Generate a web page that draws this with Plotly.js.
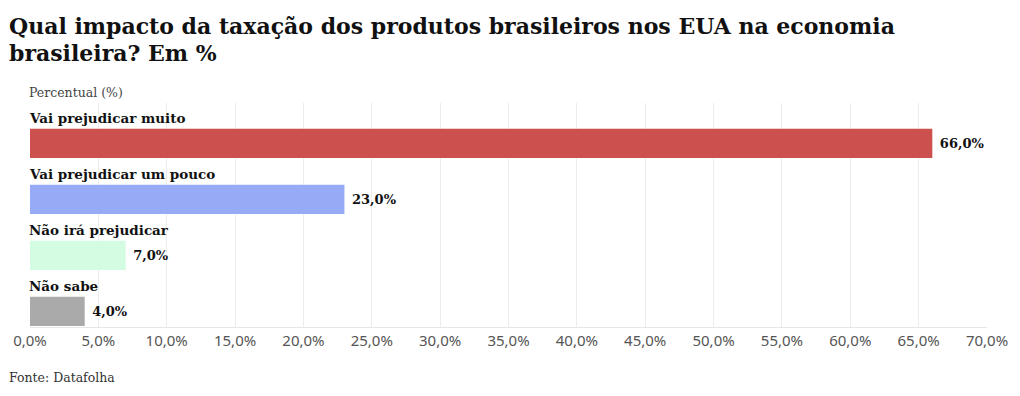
<!DOCTYPE html>
<html>
<head>
<meta charset="utf-8">
<script src="https://cdn.plot.ly/plotly-3.0.1.min.js"></script>
<style>html,body{margin:0;padding:0;background:#fff;}#chart{width:1020px;height:396px;}</style>
</head>
<body>
<div id="chart"></div>
<script>
const categories = ["Vai prejudicar muito", "Vai prejudicar um pouco", "Não irá prejudicar", "Não sabe"];
const values = [66.0, 23.0, 7.0, 4.0];
const barColors = ["rgb(204,80,77)", "rgb(151,170,245)", "rgb(212,252,226)", "rgb(170,170,170)"];
const xTicks = [0,5,10,15,20,25,30,35,40,45,50,55,60,65,70];
const titleLines = ["Qual impacto da taxação dos produtos brasileiros nos EUA na economia", "brasileira? Em %"];
const axisTitle = "Percentual (%)";
const sourceText = "Fonte: Datafolha";

const serif = "'DejaVu Serif', serif";
const sans = "'Noto Sans', sans-serif";

const fmt = v => v.toFixed(1).replace(".", ",") + "%";

const trace = {
  type: "bar",
  orientation: "h",
  x: values,
  y: categories,
  width: 0.52,
  offset: -0.04,
  marker: {color: barColors},
  text: values.map(v => " " + fmt(v)),
  textposition: "outside",
  cliponaxis: false,
  textfont: {family: serif, size: 13, color: "#111", weight: "bold"},
  hoverinfo: "none"
};

const ml = 30, mr = 33, mt = 103, mb = 69, W = 1020, H = 396;
const pw = W - ml - mr, ph = H - mt - mb;
const px2paperX = px => (px - ml) / pw;
const px2paperY = py => (H - mb - py) / ph;

const annotations = categories.map(c => ({
  x: 0, y: c, xref: "x", yref: "y",
  text: "<b>" + c + "</b>",
  showarrow: false, xanchor: "left", yanchor: "middle",
  yshift: 13, xshift: -3,
  font: {family: serif, size: 13.5, color: "#111"}
}));
annotations.push({
  x: px2paperX(30), y: px2paperY(92), xref: "paper", yref: "paper",
  text: axisTitle, showarrow: false, xanchor: "left", yanchor: "middle", xshift: -3,
  font: {family: serif, size: 12.5, color: "#444"}
});
annotations.push({
  x: px2paperX(10), y: px2paperY(377), xref: "paper", yref: "paper",
  text: sourceText, showarrow: false, xanchor: "left", yanchor: "middle", xshift: -3,
  font: {family: serif, size: 12.5, color: "#333"}
});
annotations.push({
  x: px2paperX(10), y: px2paperY(26), xref: "paper", yref: "paper",
  text: "<b>" + titleLines[0] + "</b>", showarrow: false, xanchor: "left", yanchor: "middle", xshift: -3,
  font: {family: serif, size: 22, color: "#111"}
});
annotations.push({
  x: px2paperX(10), y: px2paperY(53), xref: "paper", yref: "paper",
  text: "<b>" + titleLines[1] + "</b>", showarrow: false, xanchor: "left", yanchor: "middle", xshift: -3,
  font: {family: serif, size: 22, color: "#111"}
});

const layout = {
  width: W, height: H,
  margin: {l: ml, r: mr, t: mt, b: mb},
  paper_bgcolor: "#fff", plot_bgcolor: "#fff",
  separators: ",.",
  showlegend: false,
  xaxis: {
    range: [0, 70],
    tickvals: xTicks,
    ticktext: xTicks.map(fmt),
    showgrid: true, gridcolor: "#ececec", gridwidth: 1,
    zeroline: false,
    showline: true, linecolor: "#e6e6e6", linewidth: 1,
    ticks: "", ticklen: 0,
    tickfont: {family: sans, size: 15, color: "#555"},
    fixedrange: true
  },
  yaxis: {
    type: "category",
    range: [3.5, -0.5],
    showticklabels: false,
    showgrid: false, zeroline: false, showline: false,
    ticks: "",
    fixedrange: true
  },
  annotations: annotations
};

Plotly.newPlot("chart", [trace], layout, {displayModeBar: false, staticPlot: true});
</script>
</body>
</html>
